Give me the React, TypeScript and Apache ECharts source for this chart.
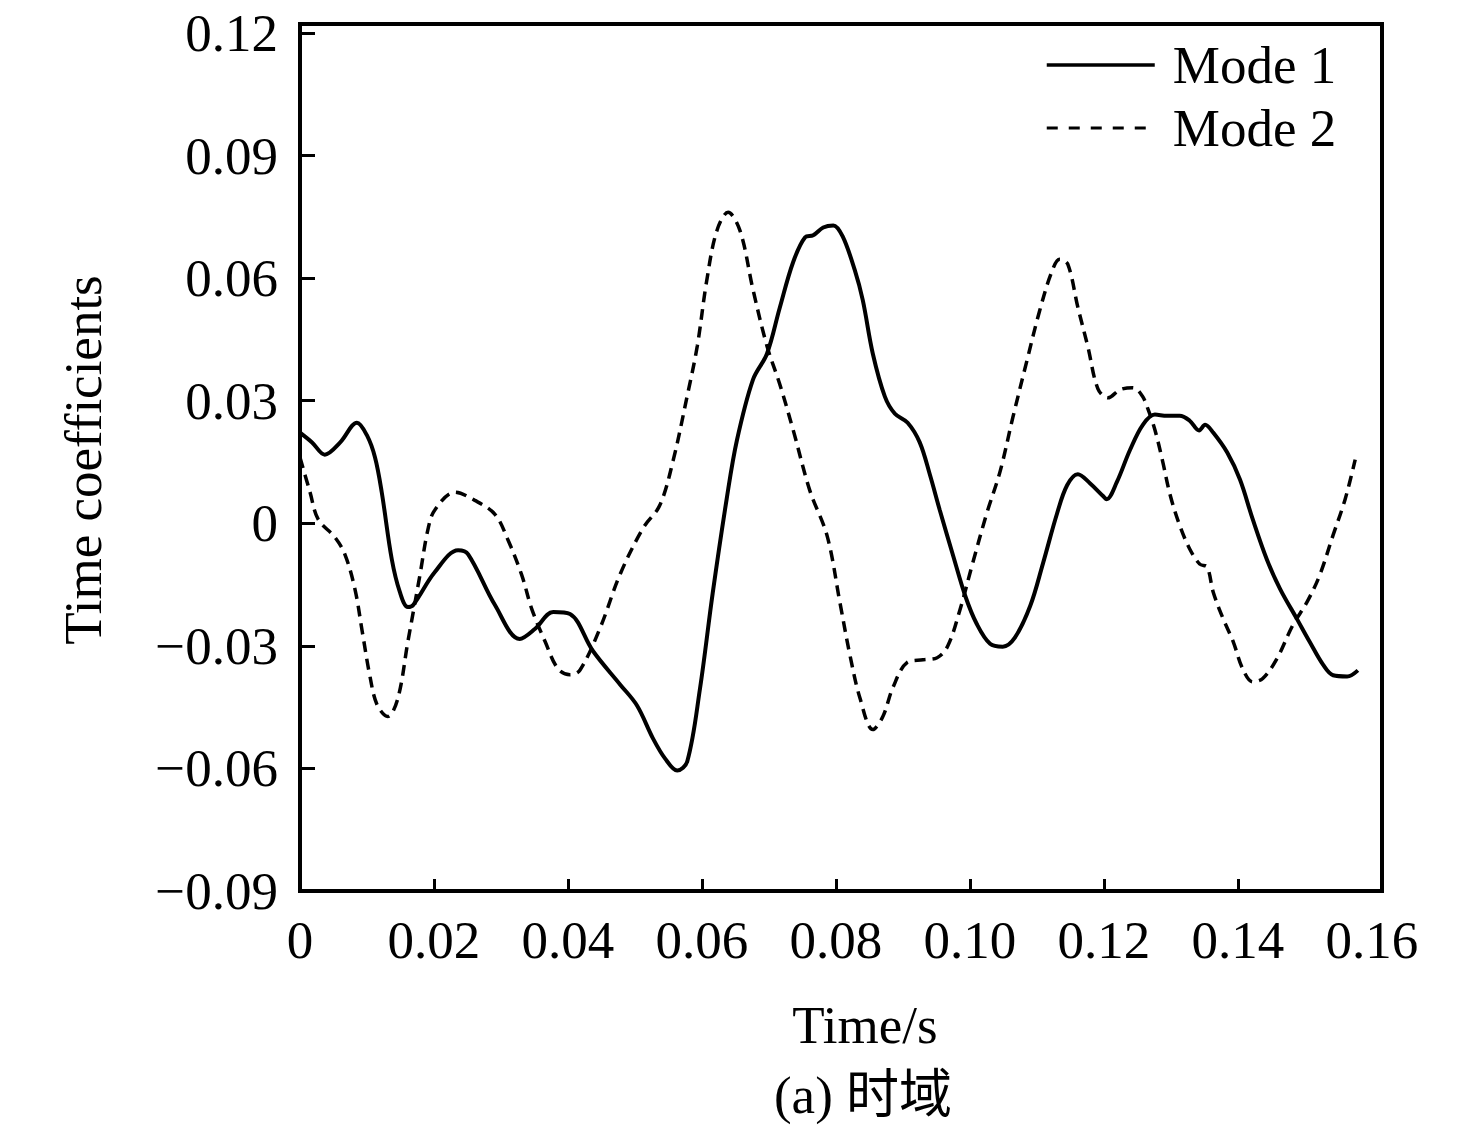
import React, { useEffect, useRef } from "react";
import * as echarts from "echarts";

const mode1Time = [0,0.0018,0.0037,0.006,0.0085,0.0100,0.0112,0.0122,0.0137,0.0149,0.0161,0.0169,0.0201,0.0236,0.0251,0.0291,0.0328,0.0351,0.0378,0.0403,0.0437,0.0478,0.0503,0.0527,0.0545,0.0563,0.0578,0.0597,0.0616,0.0637,0.0652,0.0676,0.0697,0.0716,0.0736,0.0754,0.0766,0.0781,0.0796,0.0810,0.0828,0.0840,0.0855,0.0873,0.0888,0.0907,0.0925,0.0940,0.0955,0.0975,0.0993,0.1010,0.1030,0.1049,0.1067,0.1090,0.1109,0.1130,0.1145,0.1161,0.1179,0.1199,0.1204,0.1219,0.1239,0.1258,0.1276,0.1294,0.1313,0.1328,0.1342,0.1351,0.1363,0.1384,0.1403,0.1422,0.1443,0.1463,0.1488,0.1507,0.1527,0.1542,0.1563,0.1579];
const mode1Values = [0.0222,0.0198,0.0168,0.0198,0.0246,0.0215,0.0161,0.0076,-0.0088,-0.0168,-0.0205,-0.0200,-0.0120,-0.0066,-0.0076,-0.0200,-0.0283,-0.0258,-0.0217,-0.0222,-0.0312,-0.0395,-0.0446,-0.0527,-0.0576,-0.0605,-0.0583,-0.0405,-0.0171,0.0061,0.0202,0.0351,0.0415,0.0527,0.0639,0.0700,0.0705,0.0724,0.0729,0.0702,0.0620,0.0546,0.0415,0.0310,0.0268,0.0246,0.0198,0.0120,0.0032,-0.0080,-0.0178,-0.0246,-0.0295,-0.0302,-0.0280,-0.0202,-0.0098,0.0024,0.0093,0.0120,0.0098,0.0066,0.0059,0.0100,0.0180,0.0241,0.0266,0.0263,0.0263,0.0251,0.0227,0.0241,0.0222,0.0173,0.0107,0.0010,-0.0088,-0.0161,-0.0234,-0.0290,-0.0346,-0.0372,-0.0375,-0.0360];

const mode2Time = [0,0.0015,0.0027,0.0052,0.0067,0.0082,0.0093,0.0104,0.0115,0.0131,0.0146,0.0161,0.0179,0.0191,0.0201,0.0231,0.0261,0.0291,0.0310,0.0331,0.0346,0.0366,0.0385,0.0403,0.0418,0.0448,0.0478,0.0512,0.0537,0.0557,0.0578,0.0593,0.0607,0.0622,0.0639,0.0657,0.0676,0.0697,0.0716,0.0736,0.0761,0.0787,0.0806,0.0821,0.0836,0.0855,0.0870,0.0885,0.0906,0.0930,0.0951,0.0967,0.0985,0.1004,0.1025,0.1045,0.1064,0.1085,0.1104,0.1122,0.1134,0.1146,0.1161,0.1176,0.1191,0.1206,0.1224,0.1243,0.1257,0.1266,0.1276,0.1287,0.1299,0.1313,0.1328,0.1343,0.1354,0.1363,0.1378,0.1393,0.1407,0.1422,0.1437,0.1458,0.1482,0.1503,0.1522,0.1542,0.1560,0.1575];
const mode2Values = [0.0161,0.0076,0.0010,-0.0034,-0.0076,-0.0161,-0.0266,-0.0371,-0.0444,-0.0473,-0.0429,-0.0290,-0.0127,-0.0015,0.0032,0.0076,0.0056,0.0022,-0.0039,-0.0127,-0.0210,-0.0290,-0.0356,-0.0371,-0.0359,-0.0256,-0.0124,-0.0012,0.0044,0.0154,0.0312,0.0434,0.0593,0.0715,0.0761,0.0715,0.0573,0.0434,0.0341,0.0229,0.0080,-0.0032,-0.0195,-0.0324,-0.0429,-0.0505,-0.0473,-0.0402,-0.0341,-0.0334,-0.0329,-0.0300,-0.0212,-0.0098,0.0024,0.0127,0.0259,0.0398,0.0520,0.0615,0.0646,0.0634,0.0529,0.0432,0.0329,0.0307,0.0327,0.0332,0.0312,0.0278,0.0229,0.0156,0.0068,-0.0005,-0.0063,-0.0100,-0.0107,-0.0168,-0.0234,-0.0290,-0.0356,-0.0388,-0.0380,-0.0332,-0.0249,-0.0193,-0.0127,-0.0029,0.0059,0.0156];

const seriesNames = ["Mode 1", "Mode 2"];
const xTickValues = [0, 0.02, 0.04, 0.06, 0.08, 0.1, 0.12, 0.14, 0.16];
const xTickLabels = ["0", "0.02", "0.04", "0.06", "0.08", "0.10", "0.12", "0.14", "0.16"];
const xTickMarks = [0.02, 0.04, 0.06, 0.08, 0.1, 0.12, 0.14];
const yTickValues = [-0.09, -0.06, -0.03, 0, 0.03, 0.06, 0.09, 0.12];
const yTickLabels = ["\u22120.09", "\u22120.06", "\u22120.03", "0", "0.03", "0.06", "0.09", "0.12"];
const xTitle = "Time/s";
const yTitle = "Time coefficients";
const caption = "(a) 时域";

const FONT = '"Liberation Serif", "Times New Roman", "Noto Sans CJK SC", serif';

function lookup(vals: number[], labels: string[], v: number) {
  let best = 0;
  for (let i = 1; i < vals.length; i++) {
    if (Math.abs(vals[i] - v) < Math.abs(vals[best] - v)) best = i;
  }
  return Math.abs(vals[best] - v) < 1e-6 ? labels[best] : "";
}

export default function App() {
  const ref = useRef<HTMLDivElement>(null);
  useEffect(() => {
    if (!ref.current) return;
    const chart = echarts.init(ref.current, null, { renderer: "svg" });
    const pairs = (xs: number[], ys: number[]) => xs.map((x, i) => [x, ys[i]]);
    const hiddenSymbol = { color: "rgba(0,0,0,0)", borderWidth: 0, borderColor: "rgba(0,0,0,0)", opacity: 0 };
    chart.setOption({
      animation: false,
      backgroundColor: "#ffffff",
      grid: {
        left: 300,
        top: 24,
        width: 1082,
        height: 867,
        show: true,
        borderColor: "#000",
        borderWidth: 4,
        backgroundColor: "transparent",
      },
      legend: {
        orient: "vertical",
        left: 1040,
        top: 33,
        itemWidth: 108,
        itemHeight: 20,
        itemGap: 9,
        selectedMode: false,
        itemStyle: hiddenSymbol,
        textStyle: {
          fontFamily: FONT,
          fontSize: 53,
          color: "#000",
          lineHeight: 54,
          padding: [0, 0, 0, 13],
        },
        data: [
          { name: seriesNames[0], itemStyle: hiddenSymbol, lineStyle: { color: "#000", width: 3.5, type: "solid", opacity: 1 } },
          { name: seriesNames[1], itemStyle: hiddenSymbol, lineStyle: { color: "#000", width: 3, type: [11, 11], opacity: 1 } },
        ],
      },
      xAxis: {
        type: "value",
        min: 0,
        max: 0.1615,
        interval: 0.02,
        splitLine: { show: false },
        axisLine: { show: true, onZero: false, lineStyle: { color: "#000", width: 4 } },
        axisTick: {
          show: true,
          inside: true,
          length: 12,
          customValues: xTickMarks,
          lineStyle: { color: "#000", width: 3 },
        },
        axisLabel: {
          margin: 22,
          fontFamily: FONT,
          fontSize: 53,
          color: "#000",
          showMaxLabel: true,
          formatter: (v: number) => lookup(xTickValues, xTickLabels, v),
        },
      },
      yAxis: {
        type: "value",
        min: -0.09,
        max: 0.1222,
        interval: 0.03,
        splitLine: { show: false },
        axisLine: { show: true, onZero: false, lineStyle: { color: "#000", width: 4 } },
        axisTick: { show: true, inside: true, length: 15, lineStyle: { color: "#000", width: 3 } },
        axisLabel: {
          margin: 22,
          fontFamily: FONT,
          fontSize: 53,
          color: "#000",
          formatter: (v: number) => lookup(yTickValues, yTickLabels, v),
        },
      },
      series: [
        {
          name: seriesNames[0],
          type: "line",
          data: pairs(mode1Time, mode1Values),
          symbol: "none",
          smooth: 0.35,
          lineStyle: { color: "#000", width: 4, type: "solid" },
          itemStyle: { color: "#000" },
        },
        {
          name: seriesNames[1],
          type: "line",
          data: pairs(mode2Time, mode2Values),
          symbol: "none",
          smooth: 0.35,
          lineStyle: { color: "#000", width: 3.5, type: [11, 7] },
          itemStyle: { color: "#000" },
        },
      ],
      graphic: [
        {
          type: "text",
          x: 865,
          y: 1025,
          style: { text: xTitle, fontFamily: FONT, fontSize: 53, fill: "#000", align: "center", verticalAlign: "middle" },
        },
        {
          type: "text",
          x: 863,
          y: 1095,
          style: { text: caption, fontFamily: FONT, fontSize: 53, fill: "#000", align: "center", verticalAlign: "middle" },
        },
        {
          type: "text",
          x: 83,
          y: 460,
          rotation: Math.PI / 2,
          style: { text: yTitle, fontFamily: FONT, fontSize: 53, fill: "#000", align: "center", verticalAlign: "middle" },
        },
      ],
    });
    return () => chart.dispose();
  }, []);
  return (
    <div
      ref={ref}
      style={{ position: "absolute", left: 0, top: 0, width: 1476, height: 1131, background: "#fff" }}
    />
  );
}
